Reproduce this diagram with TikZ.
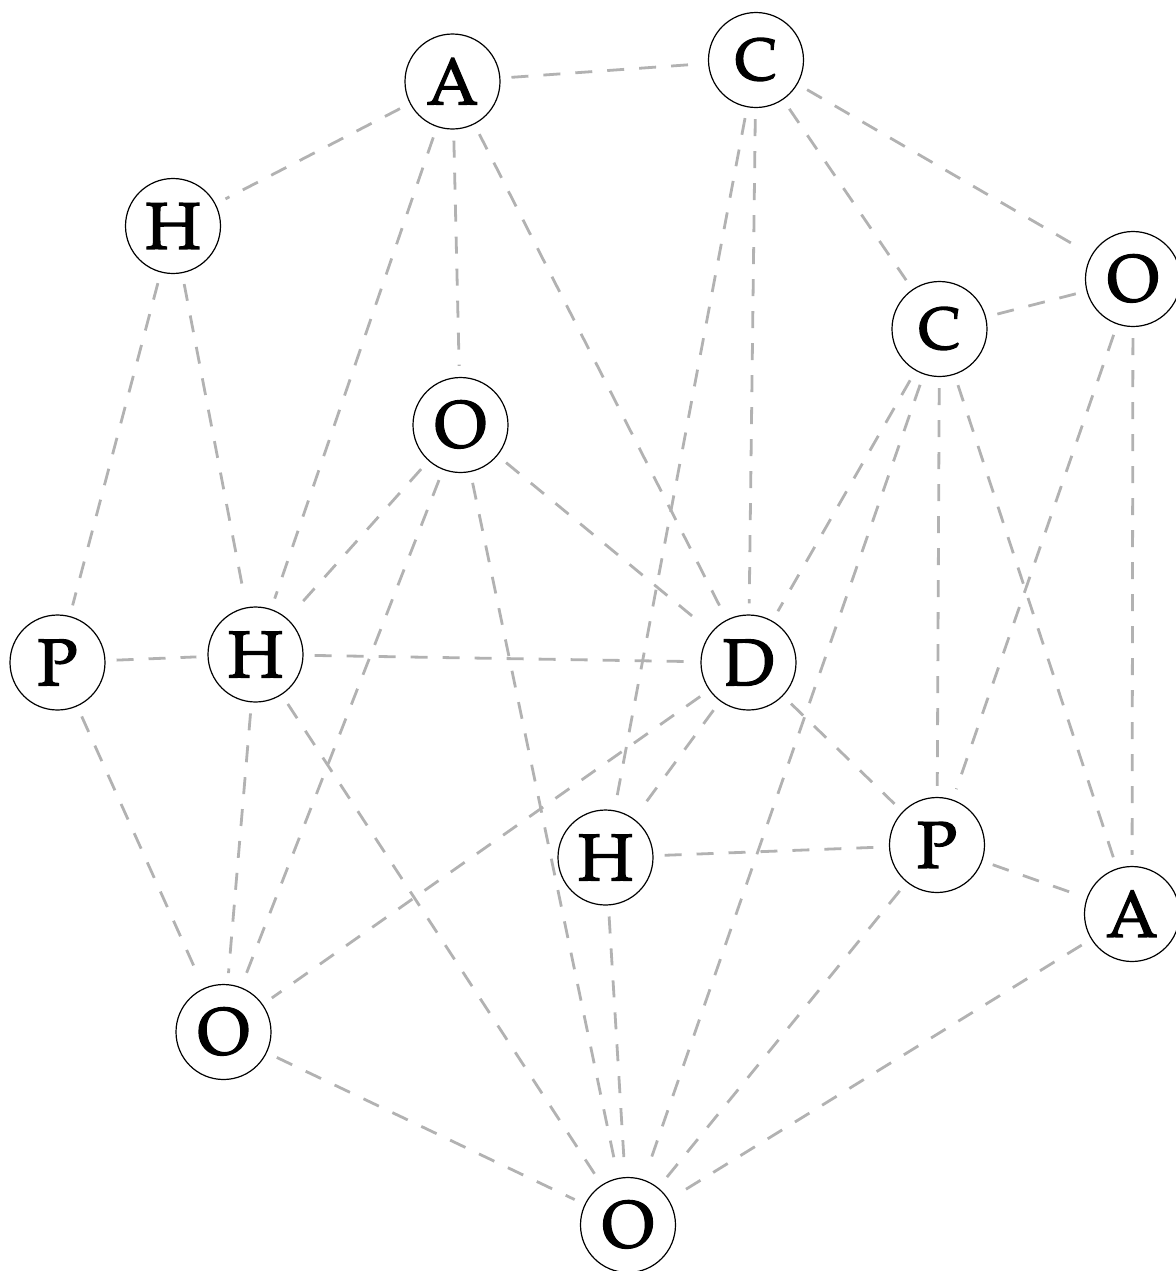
\documentclass[tikz,border=0pt]{standalone}
\usepackage[T1]{fontenc}
\usepackage{mathpazo}
\definecolor{edgegray}{RGB}{178,178,178}
\newcommand{\thicklabel}[1]{\special{pdf:literal 2 Tr 0.7 w}#1\special{pdf:literal 0 Tr}}
\begin{document}
\begin{tikzpicture}[x=0.5pt,y=-0.5pt,
  vtx/.style={circle,draw=black,line width=0.6pt,fill=white,minimum size=47.5pt,inner sep=0pt,
    font=\fontsize{33}{36}\selectfont},
  smallc/.style={font=\fontsize{29.5}{33}\selectfont},
  edge/.style={draw=edgegray,line width=1.4pt,dash pattern=on 8.5pt off 7.5pt,shorten <=5.5pt,shorten >=5.5pt}]
\useasboundingbox (0,0) rectangle (1176,1271);
\node[vtx] (A1) at (452.5,81.5) {\thicklabel{A}};
\node[vtx,smallc] (C1) at (756,60) {\thicklabel{C}};
\node[vtx] (H1) at (173,226) {\thicklabel{H}};
\node[vtx] (O1) at (1133,279) {\thicklabel{O}};
\node[vtx,smallc] (C2) at (939.5,329) {\thicklabel{C}};
\node[vtx] (O2) at (460.5,425) {\thicklabel{O}};
\node[vtx] (P1) at (57.5,662.5) {\thicklabel{P}};
\node[vtx] (H2) at (255.5,654.5) {\thicklabel{H}};
\node[vtx] (D) at (748.5,662.5) {\thicklabel{D}};
\node[vtx] (H3) at (605.5,857.5) {\thicklabel{H}};
\node[vtx] (P2) at (937,845) {\thicklabel{P}};
\node[vtx] (A2) at (1132,914) {\thicklabel{A}};
\node[vtx] (O3) at (223.5,1032) {\thicklabel{O}};
\node[vtx] (O4) at (628,1225) {\thicklabel{O}};
\foreach \a/\b in {A1/C1,A1/H1,A1/H2,A1/O2,A1/D,
  C1/O1,C1/C2,C1/D,C1/H3,
  H1/P1,H1/H2,
  O1/C2,O1/P2,O1/A2,
  C2/D,C2/P2,C2/A2,C2/O4,
  O2/H2,O2/O3,O2/D,O2/O4,
  P1/H2,P1/O3,
  H2/D,H2/O3,H2/O4,
  D/H3,D/O3,D/P2,
  H3/P2,H3/O4,
  P2/A2,P2/O4,
  A2/O4,O3/O4}
  \draw[edge] (\a) -- (\b);
\end{tikzpicture}
\end{document}
